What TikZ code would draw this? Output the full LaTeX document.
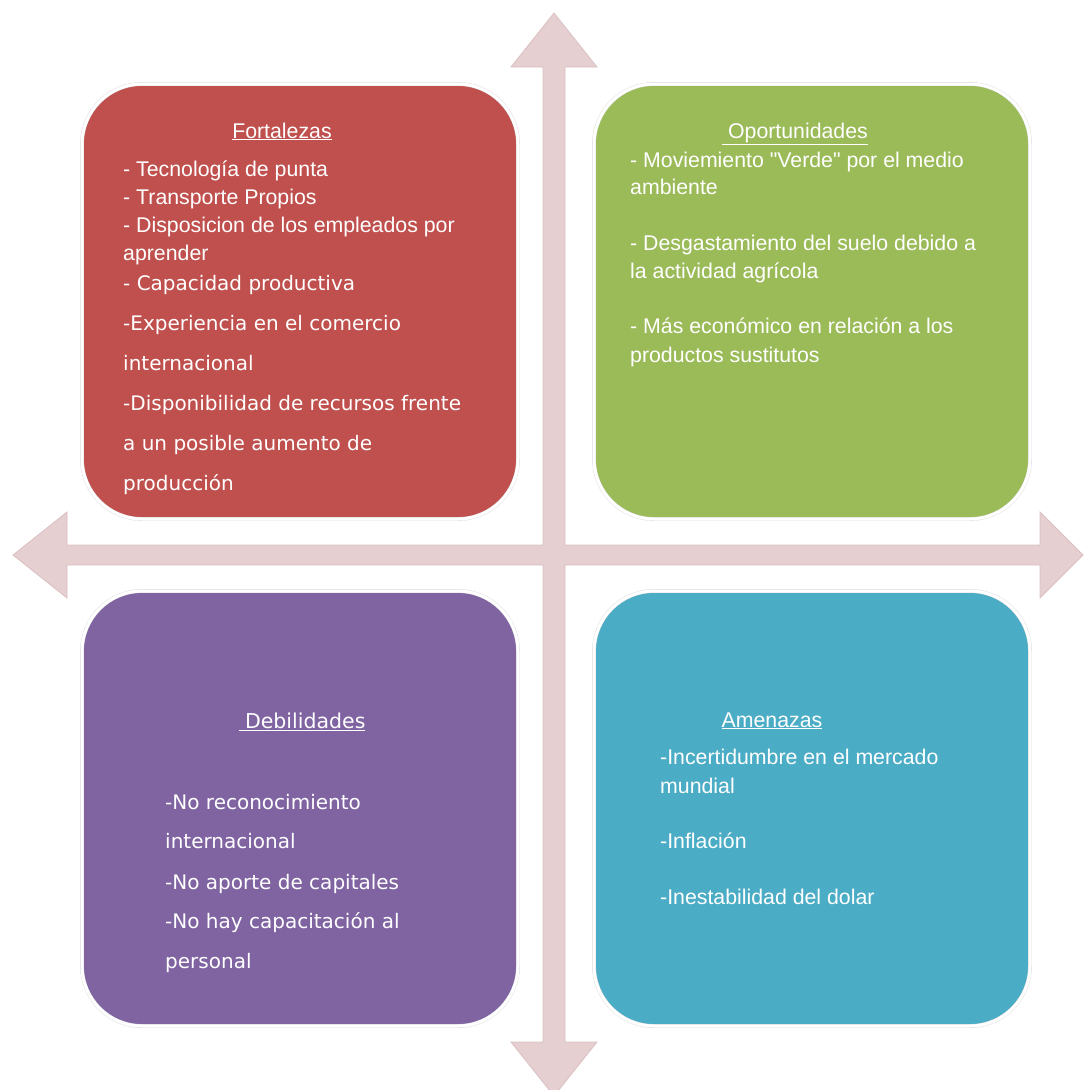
\documentclass[tikz,border=0pt]{standalone}
\usepackage{fontspec}
\setmainfont{Liberation Sans}[Ligatures=TeXOff]
\newfontfamily\pixfont{DejaVu Sans}
\usepackage{tikz}
\usetikzlibrary{positioning}
\definecolor{fortred}{HTML}{C0504D}
\definecolor{oporgreen}{HTML}{9BBB59}
\definecolor{debilpurple}{HTML}{8064A2}
\definecolor{amenblue}{HTML}{4BACC6}
\definecolor{crosspink}{RGB}{230,207,208}
\definecolor{crossedge}{RGB}{218,192,194}

\begin{document}
\begin{tikzpicture}[
    x=1pt, y=-1pt,
    quad/.style = {draw=black!14, double=white, double distance=3pt,
                   rounded corners=60pt, outer sep=0pt,
                   minimum width=436pt, minimum height=435pt},
    axes/.style = {fill=crosspink, draw=crossedge, line width=0.8pt},
    title/.style = {text=white, font=\fontsize{21.3}{26}\selectfont, anchor=base},
    item/.style = {text=white, font=\fontsize{21.3}{26}\selectfont, anchor=base west, inner sep=0pt},
    pix/.style = {text=white, font=\pixfont\fontsize{20}{26}\selectfont, anchor=base west, inner sep=0pt}
  ]
  \useasboundingbox (0,0) rectangle (1086,1090);

  % the cross with four heads
  \coordinate (mid) at (554,555);
  \draw[axes] (554,13) -- (597,67) -- (565,67) -- (565,545) -- (1040,545)
    -- (1040,512) -- (1083,555) -- (1040,598) -- (1040,565) -- (565,565)
    -- (565,1042) -- (597,1042) -- (554,1096) -- (511,1042) -- (543,1042)
    -- (543,565) -- (67,565) -- (67,598) -- (13,555) -- (67,512)
    -- (67,545) -- (543,545) -- (543,67) -- (511,67) -- cycle;

  % the four quadrants
  \node[quad, fill=fortred]     (fort)  at (300,301.5) {};
  \node[quad, fill=oporgreen]   (opor)  [right=76pt of fort] {};
  \node[quad, fill=debilpurple] (debil) [below=72pt of fort] {};
  \node[quad, fill=amenblue]    (amen)  [right=76pt of debil] {};

  % Fortalezas
  \node[title] (fortT) at (282,138) {\underline{Fortalezas}};
  \foreach \y/\t [count=\i] in {176/{- Tecnología de punta},
      204/{- Transporte Propios},
      232/{- Disposicion de los empleados por},
      260/{aprender}}
    \node[item] (f\i) at (123,\y) {\t};
  \foreach \y/\t [count=\i from 5] in {290/{- Capacidad productiva},
      330/{-Experiencia en el comercio},
      370/{internacional},
      410/{-Disponibilidad de recursos frente},
      450/{a un posible aumento de},
      490/{producción}}
    \node[pix] (f\i) at (123,\y) {\t};

  % Oportunidades
  \node[title] (oporT) at (795,138) {\underline{\ Oportunidades}};
  \foreach \y/\t [count=\i] in {167/{- Moviemiento "Verde" por el medio},
      194/{ambiente},
      250/{- Desgastamiento del suelo debido a},
      278/{la actividad agrícola},
      333/{- Más económico en relación a los},
      362/{productos sustitutos}}
    \node[item] (o\i) at (630,\y) {\t};

  % Debilidades
  \node[title, font=\pixfont\fontsize{20.5}{26}\selectfont] (debilT) at (302,728) {\underline{\ Debilidades}};
  \foreach \y/\t [count=\i] in {809/{-No reconocimiento},
      848/{internacional},
      889/{-No aporte de capitales},
      928/{-No hay capacitación al},
      968/{personal}}
    \node[pix] (d\i) at (165,\y) {\t};

  % Amenazas
  \node[title] (amenT) at (772,727) {\underline{Amenazas}};
  \foreach \y/\t [count=\i] in {764/{-Incertidumbre en el mercado},
      793/{mundial},
      848/{-Inflación},
      904/{-Inestabilidad del dolar}}
    \node[item] (a\i) at (660,\y) {\t};
\end{tikzpicture}
\end{document}
